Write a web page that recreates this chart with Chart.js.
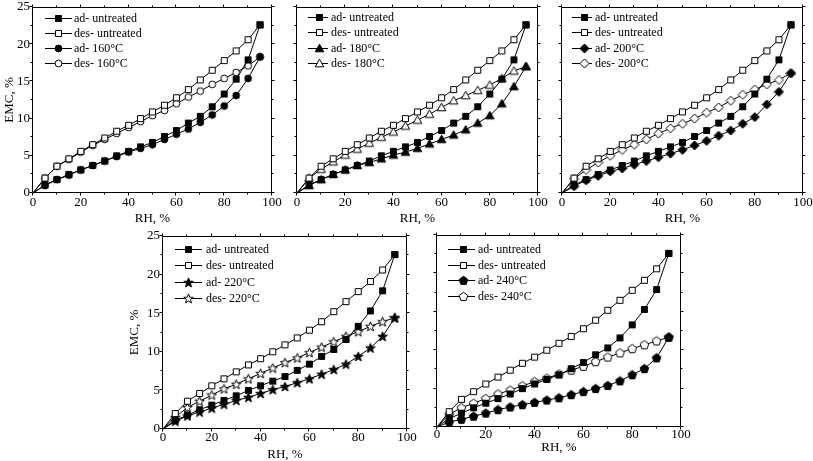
<!DOCTYPE html>
<html><head><meta charset="utf-8">
<script src="https://cdn.jsdelivr.net/npm/chart.js@4/dist/chart.umd.min.js"></script>
<style>
html,body{margin:0;padding:0;background:#fff;width:813px;height:461px;overflow:hidden;position:relative;}
canvas{position:absolute;}
</style></head><body>
<canvas id="c1"></canvas><canvas id="c2"></canvas><canvas id="c3"></canvas><canvas id="c4"></canvas><canvas id="c5"></canvas>
<script>
const rh = [0,5,10,15,20,25,30,35,40,45,50,55,60,65,70,75,80,85,90,95];
const adUntreated  = [0,1.1,1.8,2.5,3.1,3.7,4.3,5.0,5.6,6.2,6.8,7.6,8.4,9.4,10.3,11.6,13.3,15.3,17.9,22.6];
const desUntreated = [0,2.0,3.6,4.6,5.6,6.5,7.4,8.3,9.1,10.0,10.9,11.8,12.8,13.9,15.2,16.5,17.8,19.1,20.6,22.6];
const ad160  = [0,1.0,1.8,2.4,3.1,3.7,4.3,4.9,5.5,6.0,6.5,7.2,7.9,8.6,9.5,10.5,11.7,13.1,15.4,18.3];
const des160 = [0,2.0,3.6,4.5,5.5,6.4,7.2,8.0,8.8,9.6,10.4,11.1,12.0,12.9,13.7,14.6,15.4,16.2,17.1,18.3];
const ad180  = [0,1.0,1.8,2.5,3.1,3.7,4.1,4.6,5.1,5.5,6.0,6.6,7.2,7.8,8.5,9.4,10.4,12.0,14.3,17.0];
const des180 = [0,2.0,3.2,4.2,5.1,5.9,6.7,7.5,8.2,9.0,9.8,10.6,11.5,12.4,13.1,13.8,14.5,15.4,16.4,17.0];
const ad200  = [0,0.9,1.7,2.3,2.9,3.3,3.8,4.3,4.8,5.3,5.8,6.4,7.0,7.7,8.4,9.3,10.2,11.9,13.6,16.1];
const des200 = [0,1.9,3.1,4.1,5.0,5.8,6.5,7.2,8.0,8.7,9.3,10.0,10.8,11.5,12.4,13.2,13.9,14.6,15.2,16.1];
const ad220  = [0,1.0,1.7,2.2,2.7,3.2,3.7,4.1,4.6,5.1,5.5,6.0,6.5,7.1,7.7,8.4,9.4,10.5,12.0,14.4];
const des220 = [0,1.5,2.8,3.6,4.4,5.2,5.8,6.5,7.2,7.9,8.6,9.2,9.9,10.6,11.3,12.0,12.6,13.3,13.9,14.4];
const ad240  = [0,0.65,1.0,1.4,1.8,2.25,2.6,2.9,3.2,3.5,3.8,4.2,4.6,5.0,5.4,6.0,6.8,7.6,9.0,11.7];
const des240 = [0,1.65,2.5,3.1,3.7,4.3,4.8,5.35,5.9,6.35,6.9,7.4,7.9,8.5,9.1,9.65,10.2,10.7,11.2,11.7];
const labels160 = ['ad- untreated','des- untreated','ad- 160°C','des- 160°C'];
const labels180 = ['ad- untreated','des- untreated','ad- 180°C','des- 180°C'];
const labels200 = ['ad- untreated','des- untreated','ad- 200°C','des- 200°C'];
const labels220 = ['ad- untreated','des- untreated','ad- 220°C','des- 220°C'];
const labels240 = ['ad- untreated','des- untreated','ad- 240°C','des- 240°C'];
const xTitle = 'RH, %';
const yTitle = 'EMC, %';

const FONT = "'Liberation Serif','Times New Roman',serif";

function marker(shape, filled) {
  const c = document.createElement('canvas');
  const S = 11; c.width = S; c.height = S;
  const g = c.getContext('2d');
  g.lineWidth = 1; g.strokeStyle = '#000'; g.fillStyle = filled ? '#000' : '#fff';
  g.beginPath();
  const cx = 5.5, cy = 5.5;
  if (shape === 'square') g.rect(2.5, 2.5, 6, 6);
  else if (shape === 'circle') g.arc(cx, cy, 3.4, 0, Math.PI * 2);
  else if (shape === 'triangle') { g.moveTo(cx, 1.2); g.lineTo(9.8, 8.8); g.lineTo(1.2, 8.8); g.closePath(); }
  else if (shape === 'diamond') { g.moveTo(cx, 1); g.lineTo(10, cy); g.lineTo(cx, 10); g.lineTo(1, cy); g.closePath(); }
  else if (shape === 'star') {
    for (let i = 0; i < 10; i++) {
      const r = i % 2 ? 2.1 : 5.0, a = -Math.PI / 2 + i * Math.PI / 5;
      const px = cx + r * Math.cos(a), py = cy + 0.4 + r * Math.sin(a);
      if (i === 0) g.moveTo(px, py); else g.lineTo(px, py);
    }
    g.closePath();
  } else if (shape === 'pentagon') {
    for (let i = 0; i < 5; i++) {
      const a = -Math.PI / 2 + i * 2 * Math.PI / 5;
      const px = cx + 4.5 * Math.cos(a), py = cy + 0.3 + 4.5 * Math.sin(a);
      if (i === 0) g.moveTo(px, py); else g.lineTo(px, py);
    }
    g.closePath();
  }
  g.fill(); g.stroke();
  return c;
}

const framePlugin = {
  id: 'frame',
  beforeDatasetsDraw(chart) {
    const {ctx, chartArea: a, scales: {x, y}} = chart;
    ctx.save();
    ctx.strokeStyle = '#000'; ctx.lineWidth = 1;
    const l = Math.round(a.left) - 0.5, r = Math.round(a.right) - 0.5;
    const t = Math.round(a.top) + 0.5, b = Math.round(a.bottom) - 0.5;
    ctx.beginPath();
    ctx.rect(l, t, r - l, b - t);
    for (let v = 0; v <= 100; v += 10) {
      const px = Math.round(x.getPixelForValue(v)) - 0.5;
      const len = v % 20 === 0 ? 3 : 2;
      ctx.moveTo(px, b); ctx.lineTo(px, b + len);
      ctx.moveTo(px, t); ctx.lineTo(px, t - len);
    }
    for (let v = 0; v <= 25; v += 2.5) {
      const py = Math.round(y.getPixelForValue(v)) - 0.5;
      const len = v % 5 === 0 ? 3 : 2;
      ctx.moveTo(l, py); ctx.lineTo(l - len, py);
      ctx.moveTo(r, py); ctx.lineTo(r + len, py);
    }
    ctx.stroke();
    ctx.restore();
  }
};

const legendPlugin = {
  id: 'boxLegend',
  afterDraw(chart) {
    const o = chart.options.plugins.boxLegend;
    if (!o) return;
    const {ctx, chartArea: a} = chart;
    ctx.save();
    chart.data.datasets.forEach((ds, i) => {
      const yy = Math.round(a.top + o.y0 + i * o.dy) + 0.5;
      ctx.strokeStyle = '#000'; ctx.lineWidth = 1;
      ctx.beginPath(); ctx.moveTo(a.left + o.x0, yy); ctx.lineTo(a.left + o.x1, yy); ctx.stroke();
      const m = ds.pointStyle;
      ctx.drawImage(m, Math.round(a.left + o.mx - m.width / 2), Math.round(yy - m.height / 2));
      ctx.fillStyle = '#000';
      ctx.font = '12px ' + FONT;
      ctx.textBaseline = 'middle'; ctx.textAlign = 'left';
      ctx.fillText(ds.label, a.left + o.tx, yy);
    });
    ctx.restore();
  }
};

function buildChart(id, area, cfg) {
  const L = cfg.L, T = 17, R = 14, B = cfg.B;
  const cv = document.getElementById(id);
  const w = area.r - area.l + L + R, h = area.b - area.t + T + B;
  cv.width = w; cv.height = h;
  cv.style.left = (area.l - L) + 'px'; cv.style.top = (area.t - T) + 'px';
  cv.style.width = w + 'px'; cv.style.height = h + 'px';
  const datasets = cfg.series.map((s, k) => ({
    label: cfg.labels[k],
    data: s.data.map((v, i) => ({x: rh[i], y: v})),
    borderColor: '#000', borderWidth: 1, tension: 0, fill: false,
    pointStyle: s.marker,
    pointRadius: c => c.dataIndex === 0 ? 0 : 4,
    pointHoverRadius: c => c.dataIndex === 0 ? 0 : 4,
    clip: 6
  }));
  const tickFont = {family: FONT, size: 13};
  new Chart(cv, {
    type: 'line',
    data: {datasets},
    options: {
      responsive: false, animation: false, devicePixelRatio: 1,
      layout: {padding: {left: 0, top: T, right: R, bottom: 0}},
      plugins: {legend: {display: false}, tooltip: {enabled: false}, boxLegend: cfg.leg},
      scales: {
        x: {
          type: 'linear', min: 0, max: 100,
          ticks: {stepSize: 20, padding: cfg.xpad, font: tickFont, color: '#000', maxRotation: 0, autoSkip: false},
          grid: {display: false, drawTicks: false}, border: {display: false},
          title: {display: true, text: xTitle, font: tickFont, color: '#000', padding: {top: 0, bottom: 0}},
          afterFit: s => { s.height = B; }
        },
        y: {
          type: 'linear', min: 0, max: 25,
          ticks: {stepSize: 5, display: cfg.showY, padding: 3, font: tickFont, color: '#000'},
          grid: {display: false, drawTicks: false}, border: {display: false},
          title: {display: cfg.showY, text: yTitle, font: tickFont, color: '#000', padding: {top: 2, bottom: 0}},
          afterFit: s => { s.width = L; }
        }
      }
    },
    plugins: [framePlugin, legendPlugin]
  });
}

const sqF = marker('square', true), sqO = marker('square', false);
const untreated = [{data: adUntreated, marker: sqF}, {data: desUntreated, marker: sqO}];

buildChart('c1', {l: 33, r: 272, t: 7, b: 193}, {
  L: 33, B: 33, xpad: 2, showY: true, labels: labels160,
  leg: {x0: 12, x1: 39, mx: 25, tx: 41, y0: 11, dy: 15},
  series: [...untreated, {data: ad160, marker: marker('circle', true)}, {data: des160, marker: marker('circle', false)}]
});
buildChart('c2', {l: 297, r: 538, t: 7, b: 193}, {
  L: 12, B: 33, xpad: 2, showY: false, labels: labels180,
  leg: {x0: 11, x1: 31, mx: 22, tx: 34, y0: 10, dy: 15.3},
  series: [...untreated, {data: ad180, marker: marker('triangle', true)}, {data: des180, marker: marker('triangle', false)}]
});
buildChart('c3', {l: 562, r: 803, t: 7, b: 193}, {
  L: 12, B: 33, xpad: 2, showY: false, labels: labels200,
  leg: {x0: 10, x1: 30, mx: 22, tx: 33, y0: 10, dy: 15.3},
  series: [...untreated, {data: ad200, marker: marker('diamond', true)}, {data: des200, marker: marker('diamond', false)}]
});
buildChart('c4', {l: 163, r: 407, t: 236, b: 429}, {
  L: 38, B: 33, xpad: 1, showY: true, labels: labels220,
  leg: {x0: 12, x1: 39, mx: 25, tx: 43, y0: 13, dy: 16.3},
  series: [...untreated, {data: ad220, marker: marker('star', true)}, {data: des220, marker: marker('star', false)}]
});
buildChart('c5', {l: 437, r: 681, t: 235, b: 427}, {
  L: 12, B: 28, xpad: 0, showY: false, labels: labels240,
  leg: {x0: 11, x1: 38, mx: 26, tx: 41, y0: 14, dy: 15.7},
  series: [...untreated, {data: ad240, marker: marker('pentagon', true)}, {data: des240, marker: marker('pentagon', false)}]
});
</script>
</body></html>
